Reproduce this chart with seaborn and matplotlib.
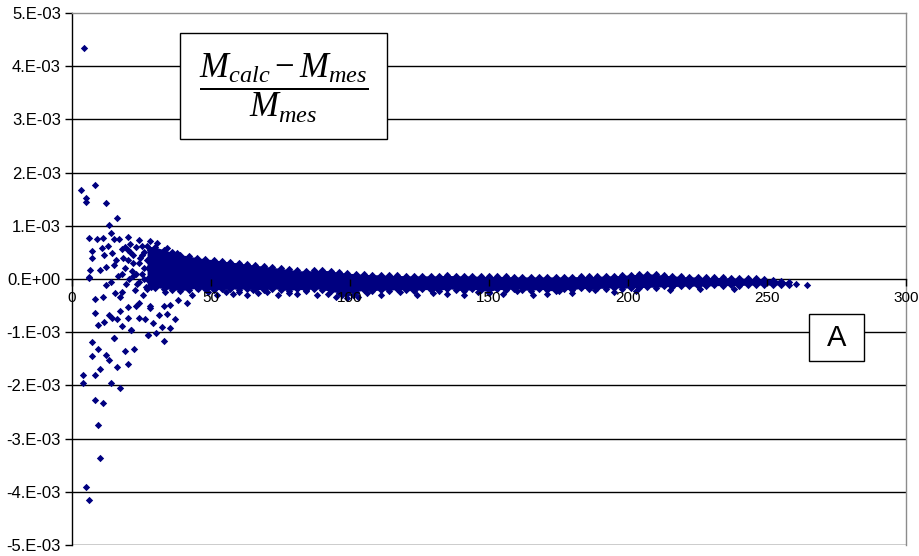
import seaborn as sns
import matplotlib.pyplot as plt
import pandas as pd
from matplotlib.patches import Rectangle

# scattered points, mostly light nuclei (A, relative deviation in 1e-3)
pts_a = [4.3, 3.2, 5.0, 5.0, 8.2, 12.1, 16.2, 13.2, 6.1, 7.2, 7.2, 6.4, 6.1, 8.9,
         11.2, 13.9, 15.0, 10.9, 10.1, 12.2, 14.3, 17.0, 20.3, 17.9, 15.2, 24.2,
         28.1, 30.4, 34.1, 37.7, 11.5, 13.0, 16.0, 18.5, 19.0, 21.0, 22.0, 23.0,
         25.0, 26.0, 27.0, 29.0, 31.0, 32.0, 19.5, 22.5, 16.5, 14.0, 25.5, 28.5,
         33.5, 18.0, 20.5, 24.0, 15.3, 12.1, 17.3, 24.2, 28.0, 35.3,
         6.2, 8.2, 11.2, 8.2, 9.4, 11.6, 13.4, 14.5, 16.3, 17.3, 18.1, 20.3, 20.1,
         21.2, 24.2, 26.1, 23.0, 28.1, 29.2, 31.2, 30.2, 32.3, 33.2, 33.2, 34.2,
         35.3, 37.2, 27.2, 15.1, 7.2, 7.2, 9.2, 4.1, 4.1, 8.2, 10.2, 12.1, 13.2,
         15.2, 14.1, 17.1, 16.2, 19.2, 20.1, 22.2, 21.2, 27.2, 8.2, 11.2, 9.2,
         10.2, 5.1, 6.2,
         38.2, 41.2, 43.3, 45.2, 49.0, 55.3, 60.2, 65.1, 70.0, 78.0, 84.0, 92.0,
         97.0, 101.0, 106.0, 118.0, 130.0, 146.0, 150.0, 160.0, 175.0, 188.0,
         260.3, 264.3,
         19.0, 20.0, 21.0, 22.0, 23.0, 24.0, 25.0, 26.0, 27.0, 28.0, 29.0, 30.0,
         21.5, 23.5, 26.5, 29.5, 31.5, 22.0, 25.0, 27.5, 18.0, 20.0, 24.5, 26.0,
         52.0, 58.0, 63.0, 67.0, 74.0, 81.0, 88.0, 95.0, 99.0, 103.0, 111.0,
         124.0, 135.0, 141.0, 155.0, 166.0, 171.0, 180.0, 195.0, 203.0, 215.0,
         226.0, 238.0]
pts_y = [4.34, 1.67, 1.52, 1.45, 1.77, 1.43, 1.15, 1.01, 0.78, 0.53, 0.39, 0.17,
         0.03, 0.75, 0.78, 0.87, 0.76, 0.58, 0.17, 0.23, 0.49, 0.76, 0.79, 0.57,
         0.26, 0.73, 0.72, 0.68, 0.58, 0.48, 0.45, 0.62, 0.35, 0.40, 0.20, 0.50,
         0.30, 0.10, 0.45, 0.20, 0.00, 0.35, 0.15, -0.05, -0.10, -0.20, 0.05,
         -0.05, -0.30, -0.15, -0.25, -0.25, 0.00, -0.05, -0.26, -0.11, -0.33,
         -0.46, -0.51, -0.49,
         0.01, -0.38, -0.34, -0.64, -0.86, -0.81, -0.68, -0.74, -0.76, -0.61,
         -0.88, -0.53, -0.74, -0.95, -0.73, -0.76, -0.50, -0.55, -0.83, -0.68,
         -1.01, -0.91, -1.17, -0.50, -0.65, -0.93, -0.75, -1.05, -1.10, -1.18,
         -1.45, -1.32, -1.80, -1.96, -1.80, -1.69, -1.43, -1.52, -1.11, -1.96,
         -2.04, -1.65, -1.35, -1.60, -1.31, -0.96, -1.06, -2.27, -2.34, -2.74,
         -3.36, -3.91, -4.16,
         -0.39, -0.46, -0.31, -0.19, -0.25, -0.25, -0.25, -0.21, -0.24, -0.26,
         -0.22, -0.28, -0.30, -0.31, -0.27, -0.25, -0.26, -0.25, -0.27, -0.22,
         -0.23, -0.20, -0.10, -0.12,
         0.60, 0.35, 0.65, 0.45, 0.60, 0.30, 0.62, 0.50, 0.35, 0.55, 0.15, 0.45,
         0.15, -0.10, -0.15, -0.05, 0.30, 0.05, 0.10, 0.20, 0.10, 0.55, 0.40, 0.00,
         -0.30, -0.28, -0.30, -0.27, -0.30, -0.29, -0.31, -0.33, -0.36, -0.34,
         -0.30, -0.30, -0.28, -0.30, -0.28, -0.30, -0.29, -0.27, -0.24, -0.22,
         -0.20, -0.19, -0.18]

# envelope of the dense band of points (1e-3)
band_a = [27, 30, 33, 36, 39, 42, 45, 48, 51, 54, 57, 60, 63, 66, 69, 72, 75,
          78, 81, 84, 87, 90, 93, 96, 99, 102, 105, 108, 111, 114, 117, 120, 123,
          126, 129, 132, 135, 138, 141, 144, 147, 150, 153, 156, 159, 162, 165,
          168, 171, 174, 177, 180, 183, 186, 189, 192, 195, 198, 201, 204, 207,
          210, 213, 216, 219, 222, 225, 228, 231, 234, 237, 240, 243, 246, 249,
          252, 255, 258]
band_top = [0.62, 0.60, 0.55, 0.50, 0.46, 0.43, 0.40, 0.38, 0.36, 0.34,
            0.32, 0.30, 0.28, 0.26, 0.24, 0.22, 0.20, 0.18, 0.16, 0.15, 0.16,
            0.17, 0.15, 0.13, 0.11, 0.10, 0.09, 0.08, 0.08, 0.07, 0.07, 0.06,
            0.06, 0.06, 0.06, 0.06, 0.07, 0.06, 0.06, 0.06, 0.05, 0.05, 0.05,
            0.05, 0.04, 0.04, 0.04, 0.04, 0.04, 0.04, 0.04, 0.04, 0.05, 0.05,
            0.05, 0.06, 0.06, 0.07, 0.08, 0.09, 0.10, 0.09, 0.07, 0.06, 0.05,
            0.04, 0.04, 0.03, 0.03, 0.03, 0.02, 0.02, 0.01, 0.01, 0.00, -0.01,
            -0.03, -0.06]
band_bottom = [-0.19, -0.16, -0.18, -0.20, -0.22, -0.20, -0.17, -0.19,
               -0.21, -0.19, -0.18, -0.20, -0.18, -0.19, -0.21, -0.18, -0.20,
               -0.22, -0.19, -0.21, -0.18, -0.20, -0.23, -0.26, -0.28, -0.24,
               -0.21, -0.23, -0.20, -0.22, -0.19, -0.21, -0.23, -0.19, -0.21,
               -0.22, -0.18, -0.20, -0.23, -0.19, -0.21, -0.24, -0.19, -0.21,
               -0.18, -0.20, -0.22, -0.19, -0.21, -0.23, -0.19, -0.21, -0.17,
               -0.19, -0.17, -0.18, -0.16, -0.18, -0.16, -0.17, -0.15, -0.16,
               -0.14, -0.15, -0.13, -0.14, -0.13, -0.14, -0.12, -0.13, -0.12,
               -0.13, -0.11, -0.12, -0.11, -0.12, -0.11, -0.11]

y_ticks = [-5, -4, -3, -2, -1, 0, 1, 2, 3, 4, 5]
y_labels = ['-5.E-03', '-4.E-03', '-3.E-03', '-2.E-03', '-1.E-03', '0.E+00',
            '1.E-03', '2.E-03', '3.E-03', '4.E-03', '5.E-03']
x_ticks = [0, 50, 100, 150, 200, 250, 300]

navy = '#000080'
plt.rcParams['font.family'] = ['Liberation Sans', 'DejaVu Sans']
plt.rcParams['mathtext.fontset'] = 'custom'
plt.rcParams['mathtext.it'] = 'Liberation Serif:italic'
plt.rcParams['mathtext.rm'] = 'Liberation Serif'

fig = plt.figure(figsize=(9.2, 5.56), dpi=100)
ax = fig.add_axes([72 / 920, 1 - 545 / 556, (906 - 72) / 920, (545 - 13) / 556])

df_pts = pd.DataFrame({'A': pts_a, 'dev': [v * 1e-3 for v in pts_y]})
df_top = pd.DataFrame({'A': band_a, 'dev': [v * 1e-3 for v in band_top]})
df_bot = pd.DataFrame({'A': band_a, 'dev': [v * 1e-3 for v in band_bottom]})

ax.fill_between(df_top['A'], df_bot['dev'], df_top['dev'], color=navy,
                linewidth=0, zorder=3)
for d in [df_top, df_bot, df_pts]:
    sns.scatterplot(x='A', y='dev', data=d, ax=ax, marker='D', color=navy,
                    s=14, linewidth=0, zorder=4)

ax.set_xlim(0, 300)
ax.set_ylim(-5e-3, 5e-3)
ax.set_yticks([t * 1e-3 for t in y_ticks])
ax.set_yticklabels(y_labels)
ax.set_xticks(x_ticks)
ax.set_xticklabels([str(t) for t in x_ticks])
ax.set_xlabel('')
ax.set_ylabel('')

for t in y_ticks:
    if t not in (0, 5):
        ax.axhline(t * 1e-3, color='black', linewidth=1.0, zorder=1)

ax.spines['bottom'].set_position(('data', 0))
ax.spines['bottom'].set_color('black')
ax.spines['left'].set_color('black')
ax.spines['top'].set_color('#8c8c8c')
ax.spines['right'].set_color('#8c8c8c')
for s in ax.spines.values():
    s.set_linewidth(1.0)
ax.tick_params(axis='both', direction='out', length=5, width=1, colors='black')
ax.tick_params(axis='y', pad=3, labelsize=12)
ax.tick_params(axis='x', pad=4, labelsize=11)
# x labels sit on top of the points, like in the original
ax.xaxis.set_zorder(7)

# formula box
ax.add_patch(Rectangle((0.1295, 0.763), 0.248, 0.199, transform=ax.transAxes,
                       facecolor='white', edgecolor='black', linewidth=1.0,
                       zorder=5))
ax.text(0.2536, 0.858, r'$\dfrac{M_{calc}-M_{mes}}{M_{mes}}$', transform=ax.transAxes,
        ha='center', va='center', fontsize=25, zorder=6)

# label box
ax.add_patch(Rectangle((0.8837, 0.3459), 0.066, 0.0883, transform=ax.transAxes,
                       facecolor='white', edgecolor='black', linewidth=1.0,
                       zorder=5))
ax.text(0.9167, 0.390, 'A', transform=ax.transAxes, ha='center', va='center',
        fontsize=21, zorder=6)

fig.savefig('out.png', dpi=100)
